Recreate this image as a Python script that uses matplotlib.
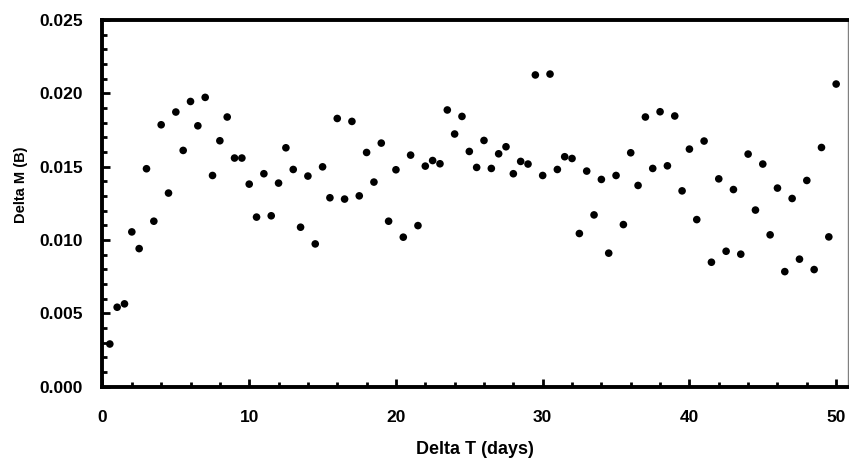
import numpy as np
import matplotlib.pyplot as plt
from matplotlib.ticker import MultipleLocator, FormatStrFormatter

# Delta T in days (every half day) and Delta M (B)
dT = np.arange(1, 101) * 0.5
dM = [0.00290, 0.00541, 0.00564, 0.01055, 0.00941, 0.01486, 0.01128, 0.01786, 0.01320, 0.01873,
      0.01611, 0.01945, 0.01779, 0.01973, 0.01440, 0.01677, 0.01839, 0.01559, 0.01559, 0.01381,
      0.01156, 0.01452, 0.01165, 0.01388, 0.01629, 0.01481, 0.01087, 0.01436, 0.00973, 0.01499,
      0.01288, 0.01829, 0.01279, 0.01809, 0.01301, 0.01597, 0.01395, 0.01661, 0.01128, 0.01479,
      0.01019, 0.01579, 0.01098, 0.01504, 0.01542, 0.01520, 0.01887, 0.01723, 0.01843, 0.01604,
      0.01495, 0.01679, 0.01488, 0.01588, 0.01636, 0.01452, 0.01536, 0.01518, 0.02126, 0.01440,
      0.02132, 0.01481, 0.01568, 0.01556, 0.01044, 0.01470, 0.01171, 0.01413, 0.00910, 0.01440,
      0.01105, 0.01595, 0.01372, 0.01839, 0.01488, 0.01875, 0.01506, 0.01846, 0.01335, 0.01620,
      0.01139, 0.01675, 0.00848, 0.01417, 0.00923, 0.01344, 0.00903, 0.01586, 0.01204, 0.01518,
      0.01035, 0.01354, 0.00784, 0.01283, 0.00869, 0.01406, 0.00798, 0.01631, 0.01021, 0.02064]

plt.rcParams['font.family'] = ['Liberation Sans', 'DejaVu Sans']
plt.rcParams['font.weight'] = 'bold'

fig = plt.figure(figsize=(8.49, 4.62), dpi=100)
ax = fig.add_axes([0.1207, 0.1634, 0.878, 0.793])

ax.scatter(dT, dM, s=30, c='black', edgecolors='none', zorder=3, clip_on=False)

ax.set_xlim(0, 50.8)
ax.set_ylim(0, 0.025)
ax.xaxis.set_major_locator(MultipleLocator(10))
ax.xaxis.set_minor_locator(MultipleLocator(2))
ax.yaxis.set_major_locator(MultipleLocator(0.005))
ax.yaxis.set_minor_locator(MultipleLocator(0.001))
ax.yaxis.set_major_formatter(FormatStrFormatter('%.3f'))

ax.tick_params(which='both', direction='in', width=2, labelsize=12.5)
ax.tick_params(which='major', length=6)
ax.tick_params(which='minor', length=3.5)
ax.tick_params(axis='x', which='both', top=False, pad=17)
ax.tick_params(axis='y', which='both', right=False, pad=14)

for side in ['left', 'bottom', 'top']:
    ax.spines[side].set_linewidth(2.8)
ax.spines['right'].set_linewidth(1)
ax.spines['right'].set_color('0.5')

ax.set_xlabel('Delta T (days)', fontsize=13, fontweight='bold')
ax.set_ylabel('Delta M (B)', fontsize=10.5, fontweight='bold')
ax.xaxis.set_label_coords(0.5, -0.148)
ax.yaxis.set_label_coords(-0.100, 0.552)

plt.savefig('out.png', dpi=100)
plt.close(fig)
